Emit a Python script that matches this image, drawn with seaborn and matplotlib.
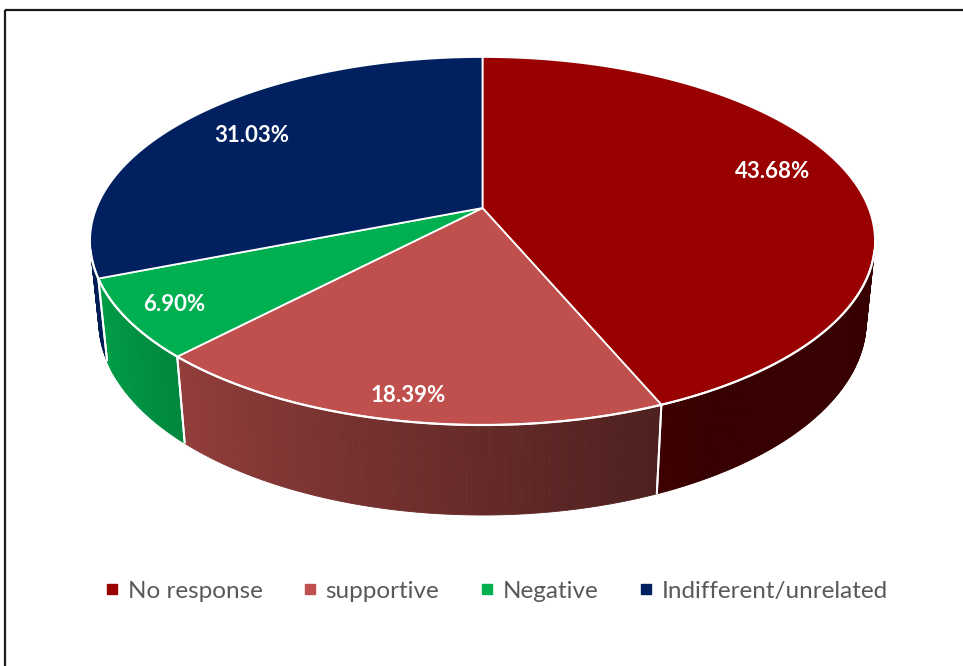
import numpy as np
import matplotlib
matplotlib.use("Agg")
import matplotlib.pyplot as plt
from matplotlib.patches import Polygon, Rectangle
from matplotlib.lines import Line2D
import seaborn as sns

# ---------------- data ----------------
categories = ["No response", "supportive", "Negative", "Indifferent/unrelated"]
percentages = [43.68, 18.39, 6.90, 31.03]
label_texts = ["43.68%", "18.39%", "6.90%", "31.03%"]
colors_hex = ["#990000", "#C0504D", "#00B050", "#002060"]

# ---------------- style ----------------
sns.set_theme(style="white")
plt.rcParams["font.family"] = ["Lato", "DejaVu Sans"]
palette = sns.color_palette(colors_hex)

W, H = 963, 666
fig = plt.figure(figsize=(W / 100, H / 100), dpi=100)
ax = fig.add_axes([0, 0, 1, 1])
ax.set_xlim(0, W)
ax.set_ylim(H, 0)
ax.axis("off")

# ---------------- 3D projection parameters ----------------
CX, CY = 482.5, 208.0          # projected pie centre (pixels)
phi = np.deg2rad(27.47)        # elevation
s, c = np.sin(phi), np.cos(phi)
D = 4.949                      # camera distance (radius units)
F = 1910.8                     # focal scale
HT = 0.2353                    # pie thickness


def proj(theta_deg, r, z):
    th = np.deg2rad(np.asarray(theta_deg, dtype=float))
    x = r * np.sin(th)
    y = r * np.cos(th)
    u = x
    v = y * s + z * c
    w = -y * c + z * s
    k = F / (D - w)
    return CX + u * k, CY - v * k


def shade(col, f):
    return tuple(np.clip(np.array(col) * f, 0, 1))


def side_factor(theta):
    return float(np.clip(0.36 + (theta - 150.0) * 0.0055, 0.36, 0.9))


# slice angles (clockwise from 12 o'clock)
fracs = np.array(percentages) / np.sum(percentages)
ends = np.cumsum(fracs) * 360.0
starts = np.concatenate([[0.0], ends[:-1]])

# visible range of the cylinder side
cos_lim = -1.0 / (D * c)
vis_lo = np.rad2deg(np.arccos(cos_lim))
vis_hi = 360.0 - vis_lo

# ---------------- sides ----------------
for a0, a1, col in zip(starts, ends, palette):
    lo, hi = max(a0, vis_lo), min(a1, vis_hi)
    if hi <= lo:
        continue
    n = max(int((hi - lo) / 0.5), 2)
    ts = np.linspace(lo, hi, n + 1)
    for t0, t1 in zip(ts[:-1], ts[1:]):
        tt = np.array([t0, t1])
        xt, yt = proj(tt, 1.0, 0.0)
        xb, yb = proj(tt[::-1], 1.0, -HT)
        pts = np.column_stack([np.concatenate([xt, xb]), np.concatenate([yt, yb])])
        fc = shade(col, side_factor(0.5 * (t0 + t1)))
        ax.add_patch(Polygon(pts, closed=True, facecolor=fc, edgecolor=fc,
                             linewidth=0.6, antialiased=True, zorder=2))

# white vertical edges at slice boundaries on the visible side
for a in list(starts) + list(ends):
    if vis_lo < a < vis_hi:
        x0, y0 = proj(a, 1.0, 0.0)
        x1, y1 = proj(a, 1.0, -HT)
        ax.plot([x0, x1], [y0, y1], color="white", lw=1.4, zorder=3,
                solid_capstyle="butt")

# ---------------- top faces ----------------
for a0, a1, col in zip(starts, ends, palette):
    ts = np.linspace(a0, a1, max(int((a1 - a0) / 0.5), 2) + 1)
    xs, ys = proj(ts, 1.0, 0.0)
    pts = np.column_stack([np.concatenate([[CX], xs]), np.concatenate([[CY], ys])])
    ax.add_patch(Polygon(pts, closed=True, facecolor=col, edgecolor="white",
                         linewidth=1.3, joinstyle="round", zorder=4))

# white front rim
ts = np.linspace(vis_lo, vis_hi, 400)
xs, ys = proj(ts, 1.0, 0.0)
ax.plot(xs, ys, color="white", lw=1.6, zorder=5)

# ---------------- data labels ----------------
label_r = [0.81, 0.90, 0.88, 0.78]
label_dang = [-4.0, 0.0, 0.0, 0.0]
for a0, a1, txt, rr, da in zip(starts, ends, label_texts, label_r, label_dang):
    xm, ym = proj(0.5 * (a0 + a1) + da, rr, 0.0)
    ax.text(xm, ym, txt, color="white", fontsize=16, fontweight="bold",
            ha="center", va="center", zorder=6)

# ---------------- legend ----------------
handles = [Line2D([0], [0], marker="s", linestyle="none", markersize=6.5,
                  markerfacecolor=col, markeredgecolor=col) for col in palette]
leg = fig.legend(handles, categories, loc="center",
                 bbox_to_anchor=(496 / W, 1 - 591 / H), ncol=4, frameon=False,
                 fontsize=17.5, handlelength=0.6, handletextpad=0.35,
                 columnspacing=1.65, borderaxespad=0)
for t in leg.get_texts():
    t.set_color("#595959")

# ---------------- chart frame ----------------
ax.add_patch(Rectangle((4.5, 9.5), 1000, 1000, fill=False, edgecolor="#1a1a1a",
                       linewidth=1.6, zorder=1, clip_on=False))

fig.savefig("out.png", dpi=100)
